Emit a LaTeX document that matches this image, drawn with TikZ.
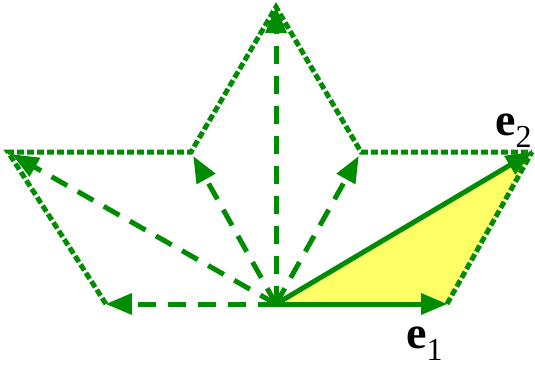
\documentclass[tikz,border=0pt]{standalone}
\usepackage{fontspec}
\setmainfont{Liberation Serif}
\usetikzlibrary{calc}
\definecolor{vgreen}{RGB}{0,140,0}
\definecolor{vyellow}{RGB}{255,255,102}
\tikzset{
  vec/.style={draw=vgreen, line width=5pt, shorten >=20pt},
  dashvec/.style={vec, dash pattern=on 18pt off 12pt},
  dotline/.style={draw=vgreen, line width=5pt, dash pattern=on 7pt off 3pt},
  tiphead/.style={fill=vgreen},
  lbl/.style={inner sep=0pt, font=\fontsize{46}{46}\selectfont}
}
\newcommand{\subnum}[1]{\raisebox{-0.28em}{\fontsize{32}{32}\selectfont #1}}
% arrowhead: tip at #2, pointing from #1
\newcommand{\headat}[2]{%
  \fill[tiphead] (#2) -- ($($(#2)!26pt!(#1)$)!11pt!90:(#2)$) -- ($($(#2)!26pt!(#1)$)!11pt!-90:(#2)$) -- cycle;}
\begin{document}
\begin{tikzpicture}[x=1pt,y=-1pt]
\useasboundingbox (0,0) rectangle (535,369);
\coordinate (O) at (276,304);
\coordinate (A1) at (447,304);
\coordinate (A2) at (532,152);
\coordinate (P60) at (361,152);
\coordinate (P120) at (191,152);
\coordinate (Ptop) at (276,7);
\coordinate (P180) at (106,304);
\coordinate (Pleft) at (8,152);
% arrow tips stopping a little short of the lattice points
\coordinate (T60) at ($(P60)!5pt!(O)$);
\coordinate (T120) at ($(P120)!5pt!(O)$);
\coordinate (Tleft) at ($(Pleft)!5pt!(O)$);
% yellow triangle
\fill[vyellow] (O) -- (A1) -- (A2) -- cycle;
% dotted outline
\draw[dotline] (P180) -- (Pleft) -- (P120) -- (Ptop) -- (P60) -- (A2);
\draw[dotline] (A1) -- (A2);
% dashed vectors
\draw[dashvec] (O) -- (P180);  \headat{O}{P180}
\draw[dashvec] (O) -- (Tleft); \headat{O}{Tleft}
\draw[dashvec] (O) -- (T120);  \headat{O}{T120}
\draw[dashvec] (O) -- (Ptop);  \headat{O}{Ptop}
\draw[dashvec] (O) -- (T60);   \headat{O}{T60}
% solid basis vectors
\draw[vec] (O) -- (A1); \headat{O}{A1}
\draw[vec] (O) -- (A2); \headat{O}{A2}
% labels
\node[lbl, anchor=base west] (l1) at (406,348) {\textbf{e}\subnum{1}};
\node[lbl, anchor=base west] (l2) at (495,135) {\textbf{e}\subnum{2}};
\end{tikzpicture}
\end{document}
